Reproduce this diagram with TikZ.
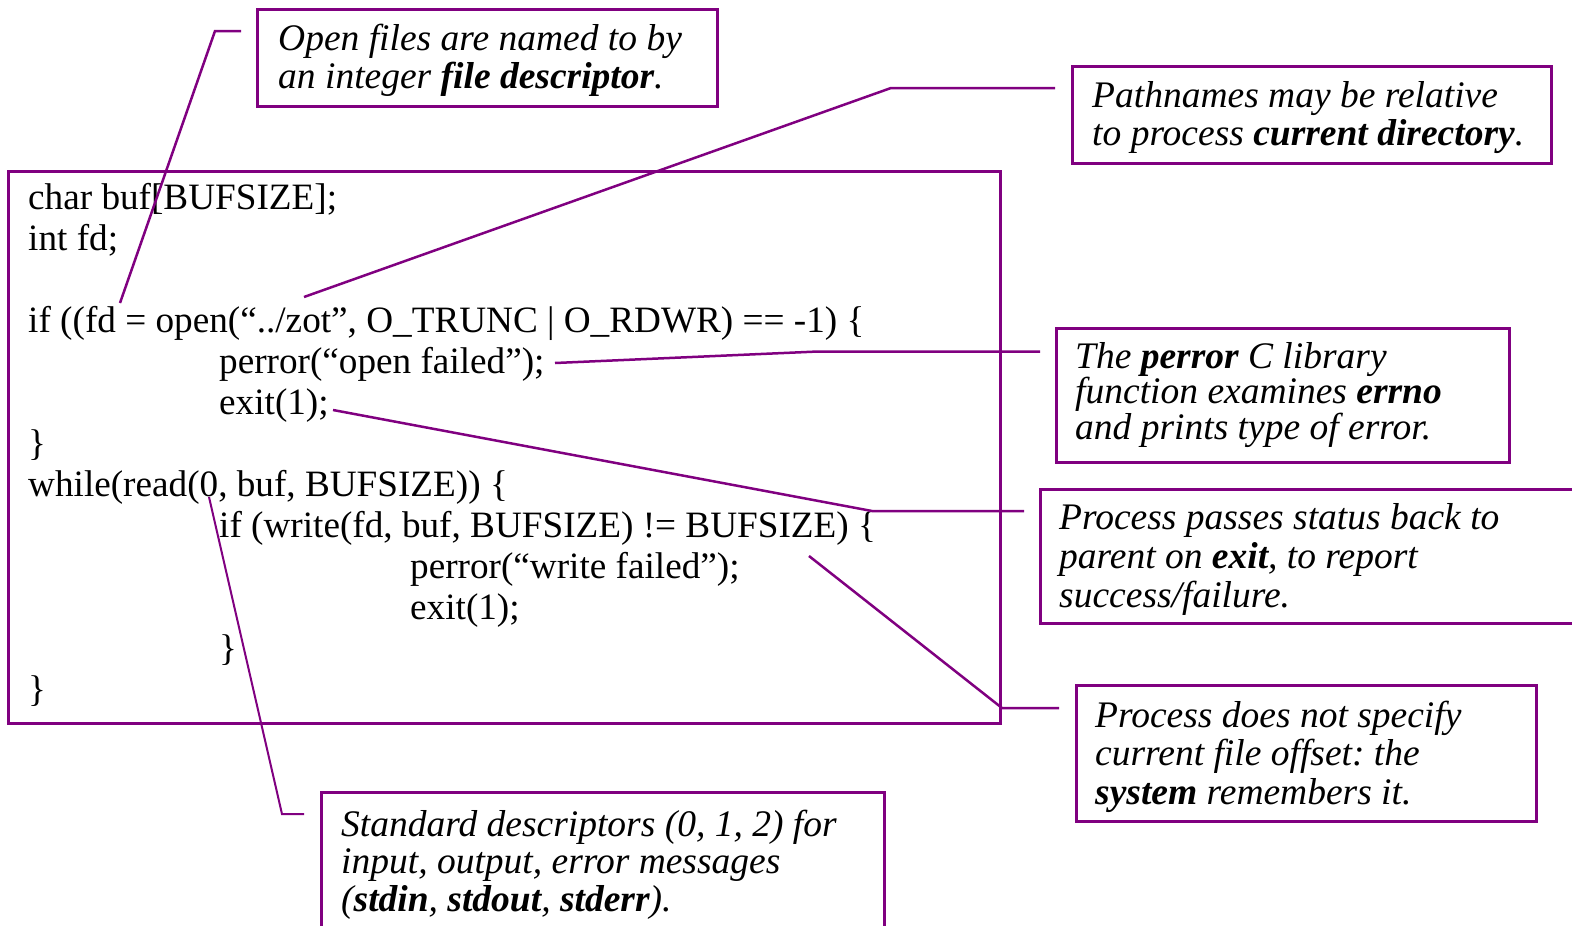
\documentclass[tikz,border=0pt]{standalone}
\usepackage{fontspec}
\setmainfont{Liberation Serif}
\frenchspacing
\definecolor{pur}{RGB}{128,0,128}
\tikzset{
  boxframe/.style={draw=pur, line width=3bp, inner sep=0pt, anchor=north west},
  codeline/.style={anchor=base west, inner sep=0pt, font=\fontsize{37.2bp}{41bp}\selectfont},
  noteline/.style={anchor=base west, inner sep=0pt, font=\fontsize{37.5bp}{37bp}\selectfont\itshape},
  conn/.style={draw=pur, line width=2.5bp, line join=miter}
}
\begin{document}
\begin{tikzpicture}[x=1bp,y=-1bp]
\useasboundingbox (0,0) rectangle (1572,925);
% main code box
\node[boxframe, minimum width=992bp, minimum height=552bp] (main) at (7,170) {};
% code lines
\node[codeline] (c1) at (28,209) {char buf[BUFSIZE];};
\node[codeline] (c2) at (28,250) {int fd;};
\node[codeline] (c3) at (28,332) {if ((fd = open(“../zot”, O\_TRUNC | O\_RDWR) == -1) \{};
\node[codeline] (c4) at (219,373) {perror(“open failed”);};
\node[codeline] (c5) at (219,414) {exit(1);};
\node[codeline] (c6) at (28,455) {\}};
\node[codeline] (c7) at (28,496) {while(read(0, buf, BUFSIZE)) \{};
\node[codeline] (c8) at (219,537) {if (write(fd, buf, BUFSIZE) != BUFSIZE) \{};
\node[codeline] (c9) at (410,578) {perror(“write failed”);};
\node[codeline] (c10) at (410,619) {exit(1);};
\node[codeline] (c11) at (219,660) {\}};
\node[codeline] (c12) at (28,701) {\}};
% annotation boxes
\node[boxframe, minimum width=460bp, minimum height=97bp] (b1) at (256,8) {};
\node[noteline] (b1a) at (278,50) {Open files are named to by};
\node[noteline] (b1b) at (278,88.5) {an integer \textbf{file descriptor}.};

\node[boxframe, minimum width=479bp, minimum height=97bp] (b2) at (1071,65) {};
\node[noteline] (b2a) at (1092,107) {Pathnames may be relative};
\node[noteline] (b2b) at (1092,145) {to process \textbf{current directory}.};

\node[boxframe, minimum width=453bp, minimum height=134bp] (b3) at (1055,327) {};
\node[noteline] (b3a) at (1075,368) {The \textbf{perror} C library};
\node[noteline] (b3b) at (1075,403) {function examines \textbf{errno}};
\node[noteline] (b3c) at (1075,439) {and prints type of error.};

\node[boxframe, minimum width=560bp, minimum height=134bp] (b4) at (1039,488) {};
\node[noteline] (b4a) at (1059,529) {Process passes status back to};
\node[noteline] (b4b) at (1059,568) {parent on \textbf{exit}, to report};
\node[noteline] (b4c) at (1059,607) {success/failure.};

\node[boxframe, minimum width=460bp, minimum height=136bp] (b5) at (1075,684) {};
\node[noteline] (b5a) at (1095,727) {Process does not specify};
\node[noteline] (b5b) at (1095,765) {current file offset: the};
\node[noteline] (b5c) at (1095,804) {\textbf{system} remembers it.};

\node[boxframe, minimum width=563bp, minimum height=160bp] (b6) at (320,791) {};
\node[noteline] (b6a) at (341,836) {Standard descriptors (0, 1, 2) for};
\node[noteline] (b6b) at (341,873) {input, output, error messages};
\node[noteline] (b6c) at (341,911) {(\textbf{stdin}, \textbf{stdout}, \textbf{stderr}).};

% connector points
\coordinate (p1s) at (120,303); \coordinate (p1k) at (215,31); \coordinate (p1e) at (241,31);
\coordinate (p2s) at (304,297); \coordinate (p2k) at (891,88); \coordinate (p2e) at (1055,88);
\coordinate (p3s) at (555,363); \coordinate (p3k) at (818,351.5); \coordinate (p3e) at (1040,351.5);
\coordinate (p4s) at (333,410); \coordinate (p4k) at (872,511); \coordinate (p4e) at (1024,511);
\coordinate (p5s) at (809,556); \coordinate (p5k) at (1002,708); \coordinate (p5e) at (1059,708);
\coordinate (p6s) at (209,497); \coordinate (p6k) at (282,814); \coordinate (p6e) at (304,814);

\draw[conn] (p1s) -- (p1k) -- (p1e);
\draw[conn] (p2s) -- (p2k) -- (p2e);
\draw[conn] (p3s) -- (p3k) -- (p3e);
\draw[conn] (p4s) -- (p4k) -- (p4e);
\draw[conn] (p5s) -- (p5k) -- (p5e);
\draw[conn, line width=2bp] (p6s) -- (p6k) -- (p6e);
\end{tikzpicture}
\end{document}
